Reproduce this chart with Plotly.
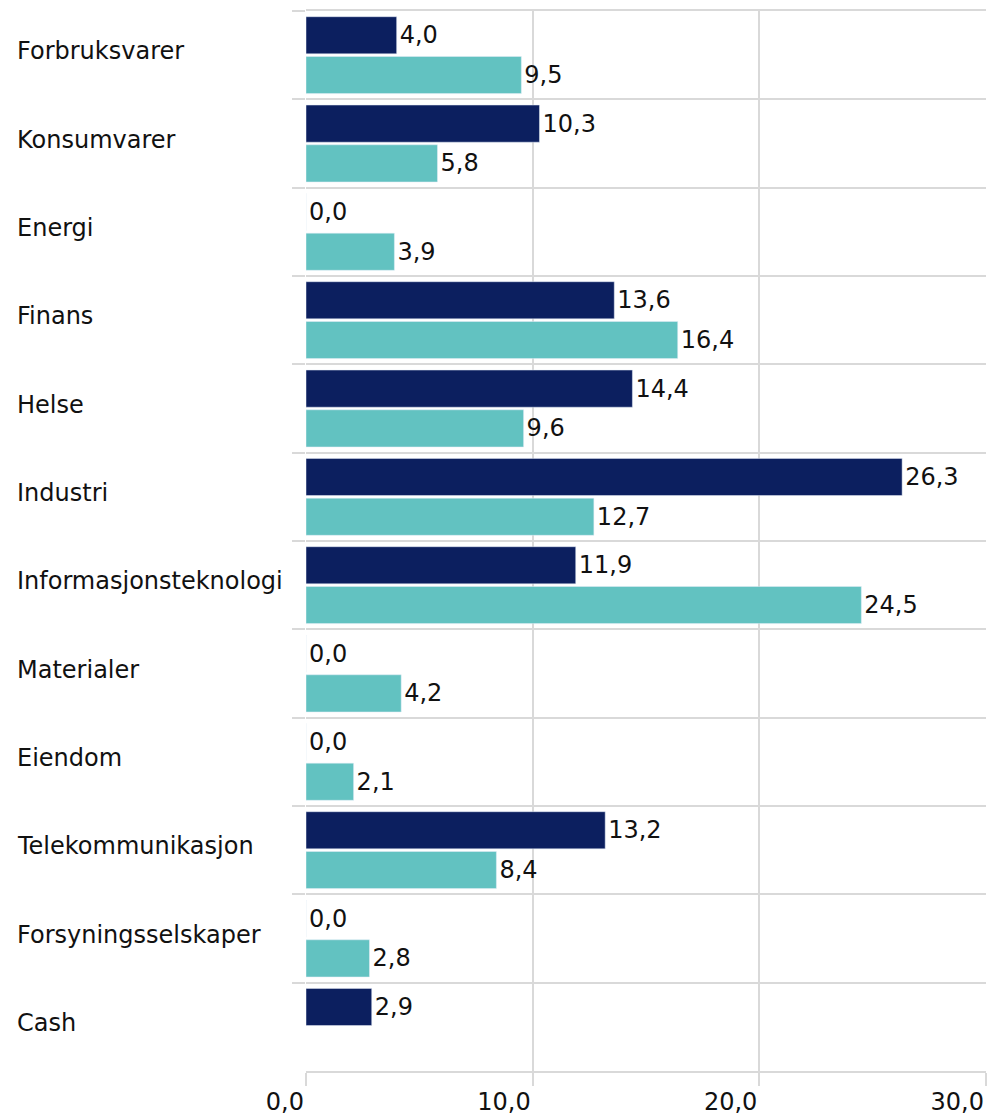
import plotly.graph_objects as go

categories = ["Forbruksvarer", "Konsumvarer", "Energi", "Finans", "Helse", "Industri",
              "Informasjonsteknologi", "Materialer", "Eiendom", "Telekommunikasjon",
              "Forsyningsselskaper", "Cash"]
fund_values = [4.0, 10.3, 0.0, 13.6, 14.4, 26.3, 11.9, 0.0, 0.0, 13.2, 0.0, 2.9]
index_values = [9.5, 5.8, 3.9, 16.4, 9.6, 12.7, 24.5, 4.2, 2.1, 8.4, 2.8, None]
x_ticks = [0, 10, 20, 30]

FONT = "DejaVu Sans"
FS = 24
GRID = "#d9d9d9"
TXT = "#111111"

fig = go.Figure()
fig.add_trace(go.Bar(
    y=categories, x=fund_values, orientation="h", name="Fond",
    marker=dict(color="#0c1f5f"),
    texttemplate="%{x:.1f}", textposition="outside", cliponaxis=False,
    textfont=dict(family=FONT, size=FS, color=TXT),
))
fig.add_trace(go.Bar(
    y=categories, x=index_values, orientation="h", name="Referanseindeks",
    marker=dict(color="#62c2c1"),
    texttemplate="%{x:.1f}", textposition="outside", cliponaxis=False,
    textfont=dict(family=FONT, size=FS, color=TXT),
))

L, R, T, B = 306, 3, 11, 43
W, H = 989, 1119
plot_w = W - L - R

for c in categories:
    fig.add_annotation(
        x=(15 - L) / plot_w, xref="paper", y=c, yref="y", yshift=4,
        text=c, showarrow=False, xanchor="left", yanchor="middle",
        font=dict(family=FONT, size=FS, color=TXT),
    )

fig.update_layout(
    width=W, height=H,
    margin=dict(l=L, r=R, t=T, b=B),
    barmode="group", bargap=0.1, bargroupgap=0.065,
    showlegend=False,
    separators=", ",
    plot_bgcolor="white", paper_bgcolor="white",
    font=dict(family=FONT, size=FS, color=TXT),
)
fig.update_yaxes(
    type="category", categoryorder="array", categoryarray=categories,
    autorange="reversed", tickson="boundaries",
    showgrid=True, gridcolor=GRID, gridwidth=2,
    ticks="outside", ticklen=13, tickcolor=GRID, tickwidth=2,
    showticklabels=False, zeroline=False,
)
fig.update_xaxes(
    range=[0, 30], tickvals=x_ticks, tickformat=".1f",
    showgrid=True, gridcolor=GRID, gridwidth=2,
    ticks="outside", ticklen=13, tickcolor=GRID, tickwidth=2,
    ticklabelposition="outside left", ticklabelstandoff=8,
    tickfont=dict(family=FONT, size=FS, color=TXT),
    showline=True, mirror=True, linecolor=GRID, linewidth=2,
    zeroline=False,
)

fig.write_html(
    "out.html",
    config={"displayModeBar": False},
    post_script="document.body.style.margin='0';document.body.style.overflow='hidden';",
)
